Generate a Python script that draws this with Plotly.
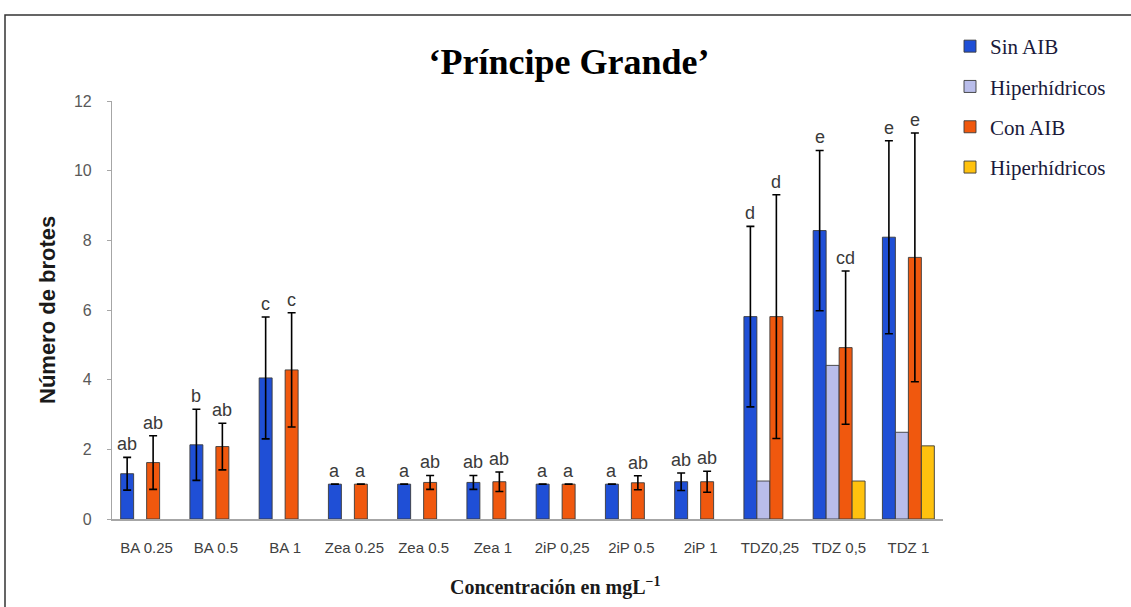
import plotly.graph_objects as go
import numpy as np

categories = ["BA 0.25", "BA 0.5", "BA 1", "Zea 0.25", "Zea 0.5", "Zea 1",
              "2iP 0,25", "2iP 0.5", "2iP 1", "TDZ0,25", "TDZ 0,5", "TDZ 1"]

sin_aib = [1.3, 2.13, 4.05, 1.0, 1.0, 1.05, 1.0, 1.0, 1.07, 5.81, 8.28, 8.09]
sin_aib_sd = [0.47, 1.02, 1.75, None, None, 0.2, None, None, 0.25, 2.59, 2.3, 2.77]
sin_aib_letters = ["ab", "b", "c", "a", "a", "ab", "a", "a", "ab", "d", "e", "e"]

hiper_sin = [None, None, None, None, None, None, None, None, None, 1.09, 4.41, 2.49]

con_aib = [1.62, 2.08, 4.28, 1.0, 1.05, 1.07, 1.0, 1.04, 1.07, 5.81, 4.92, 7.51]
con_aib_sd = [0.77, 0.67, 1.64, None, 0.2, 0.28, None, 0.2, 0.3, 3.5, 2.2, 3.57]
con_aib_letters = ["ab", "ab", "c", "a", "ab", "ab", "a", "ab", "ab", "d", "cd", "e"]

hiper_con = [None, None, None, None, None, None, None, None, None, None, 1.09, 2.1]

series_names = ["Sin AIB", "Hiperhídricos", "Con AIB", "Hiperhídricos"]
colors = ["#1F4FD6", "#B9BDEA", "#F0580E", "#FFC20E"]

x = np.arange(len(categories))
n_series = 4
bargap = 0.25
slot = (1 - bargap) / n_series

fig = go.Figure()
data = [sin_aib, hiper_sin, con_aib, hiper_con]
errs = [sin_aib_sd, None, con_aib_sd, None]
for k in range(n_series):
    kw = {}
    if errs[k] is not None:
        kw["error_y"] = dict(type="data", array=[e if e is not None else float("nan") for e in errs[k]],
                             visible=True, color="#000000", thickness=1.6, width=4)
    fig.add_trace(go.Bar(
        x=x, y=data[k], name=series_names[k],
        marker=dict(color=colors[k], line=dict(color="#3a3a3a", width=0.9)),
        legendgroup=f"g{k}", **kw))

# letters above bars / error bars
annotations = []
for k, vals, sds, letters in [(0, sin_aib, sin_aib_sd, sin_aib_letters),
                              (2, con_aib, con_aib_sd, con_aib_letters)]:
    offset = -0.5 + bargap / 2 + slot * (k + 0.5)
    for i, (v, s, t) in enumerate(zip(vals, sds, letters)):
        top = v + (s if s is not None else 0)
        annotations.append(dict(x=i + offset, y=top, xref="x", yref="y", text=t,
                                showarrow=False, yanchor="bottom", yshift=1,
                                font=dict(family="Liberation Sans", size=18, color="#3a3a3a")))

# axis titles
annotations.append(dict(x=(555 - 112) / 831, y=(519 - 586) / 418, xref="paper", yref="paper",
                        text="<b>Concentración en mgL<sup>−1</sup></b>", showarrow=False,
                        xanchor="center", yanchor="middle",
                        font=dict(family="Liberation Serif", size=20, color="#1a1a1a"),
                        ))
annotations.append(dict(x=(47 - 112) / 831, y=(519 - 310) / 418, xref="paper", yref="paper",
                        text="<b>Número de brotes</b>", showarrow=False, textangle=-90,
                        xanchor="center", yanchor="middle",
                        font=dict(family="Liberation Sans", size=22, color="#1a1a1a")))

fig.update_layout(
    width=1131, height=607,
    margin=dict(l=112, r=188, t=101, b=88),
    paper_bgcolor="white", plot_bgcolor="white",
    barmode="group", bargap=bargap, bargroupgap=0,
    title=dict(text="<b>‘Príncipe Grande’</b>", x=569 / 1131, xanchor="center",
               y=1 - 61 / 607, yanchor="middle",
               font=dict(family="Liberation Serif", size=36, color="#000000")),
    showlegend=True,
    legend=dict(x=(950 - 112) / 831, y=(519 - 26) / 418, xanchor="left", yanchor="top",
                font=dict(family="Liberation Serif", size=21, color="#1a1a3a"),
                tracegroupgap=10, traceorder="grouped", bgcolor="rgba(0,0,0,0)",
                itemwidth=30),
    annotations=annotations,
    shapes=[dict(type="rect", xref="paper", yref="paper",
                 x0=(5 - 112) / 831, x1=(1140 - 112) / 831,
                 y0=(519 - 620) / 418, y1=(519 - 15) / 418,
                 line=dict(color="#333333", width=1.5), fillcolor="rgba(0,0,0,0)", layer="below")],
)

fig.update_xaxes(range=[-0.5, len(categories) - 0.5], tickmode="array", tickvals=x,
                 ticktext=categories, showgrid=False, zeroline=False,
                 showline=True, linecolor="#A6A6A6", linewidth=1.5, ticks="",
                 ticklabelstandoff=14,
                 tickfont=dict(family="Liberation Sans", size=15, color="#404040"))
fig.update_yaxes(range=[0, 12], dtick=2, showgrid=False, zeroline=False,
                 showline=True, linecolor="#A6A6A6", linewidth=1.2, ticks="outside",
                 ticklen=4, tickcolor="#A6A6A6", ticklabelstandoff=12,
                 tickfont=dict(family="Liberation Sans", size=16, color="#595959"))

fig.write_html("out.html", config={"displayModeBar": False},
               post_script="document.body.style.margin='0';")
